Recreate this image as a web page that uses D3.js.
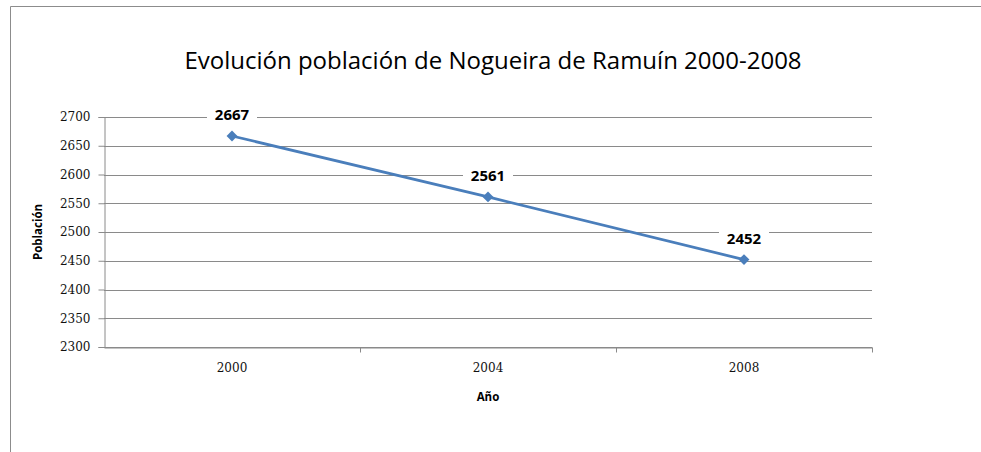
<!DOCTYPE html>
<html>
<head>
<meta charset="utf-8">
<script src="https://cdn.jsdelivr.net/npm/d3@7"></script>
<style>
  body { margin: 0; background: #fff; }
</style>
</head>
<body>
<div id="chart"></div>
<script>
// data
var years = ["2000", "2004", "2008"];
var poblacion = [2667, 2561, 2452];
var yTicks = [2300, 2350, 2400, 2450, 2500, 2550, 2600, 2650, 2700];

var W = 981, H = 452;
var margin = { top: 117, right: 109, bottom: 105, left: 104 },
    width = W - margin.left - margin.right,
    height = H - margin.top - margin.bottom;

var svg = d3.select("#chart").append("svg")
    .attr("width", W)
    .attr("height", H);

// outer chart frame (cropped at right/bottom)
svg.append("path")
    .attr("d", "M10.5," + H + "V6.5H" + W)
    .attr("fill", "none")
    .attr("stroke", "#8c8c8c")
    .attr("stroke-width", 1);

svg.append("text")
    .attr("x", 493)
    .attr("y", 69)
    .attr("text-anchor", "middle")
    .attr("font-family", "Open Sans, sans-serif")
    .attr("font-size", 24)
    .attr("fill", "#000")
    .text("Evolución población de Nogueira de Ramuín 2000-2008");

var g = svg.append("g")
    .attr("transform", "translate(" + margin.left + "," + margin.top + ")");

var x = d3.scaleBand().domain(years).range([0, width]);
var y = d3.scaleLinear().domain([2300, 2700]).range([height, 0]);

// gridlines
g.append("g")
    .selectAll("line")
    .data(yTicks)
    .enter().append("line")
    .attr("x1", 0)
    .attr("x2", width)
    .attr("y1", function (d) { return Math.round(y(d)) + 0.5; })
    .attr("y2", function (d) { return Math.round(y(d)) + 0.5; })
    .attr("stroke", "#8a8a8a");

// y axis
var yAxis = g.append("g")
    .attr("transform", "translate(0.5,0)")
    .call(d3.axisLeft(y).tickValues(yTicks).tickSize(6).tickPadding(8).tickFormat(d3.format("d")));
yAxis.select(".domain").attr("stroke", "#8a8a8a");
yAxis.selectAll(".tick line").attr("stroke", "#8a8a8a");
yAxis.selectAll("text")
    .attr("font-family", "DejaVu Serif, serif")
    .attr("font-size", 12)
    .attr("fill", "#111");

// x axis
var xAxis = g.append("g")
    .attr("transform", "translate(0," + (Math.round(height) + 0.5) + ")")
    .call(d3.axisBottom(x).tickSize(0).tickPadding(16));
xAxis.select(".domain").attr("stroke", "#8a8a8a");
xAxis.selectAll("text")
    .attr("font-family", "DejaVu Serif, serif")
    .attr("font-size", 12)
    .attr("fill", "#111");
// category boundary ticks
xAxis.selectAll(".bound")
    .data(years.slice(1).concat(["end"]))
    .enter().append("line")
    .attr("class", "bound")
    .attr("x1", function (d, i) { return Math.round(x.step() * (i + 1)) + 0.5; })
    .attr("x2", function (d, i) { return Math.round(x.step() * (i + 1)) + 0.5; })
    .attr("y1", 0)
    .attr("y2", 5)
    .attr("stroke", "#8a8a8a");

// axis titles
svg.append("text")
    .attr("transform", "translate(42," + (margin.top + height / 2) + ") rotate(-90)")
    .attr("text-anchor", "middle")
    .attr("font-family", "Open Sans, sans-serif")
    .attr("font-weight", "bold")
    .attr("font-size", 11.5)
    .text("Población");

svg.append("text")
    .attr("x", margin.left + width / 2)
    .attr("y", 401)
    .attr("text-anchor", "middle")
    .attr("font-family", "Open Sans, sans-serif")
    .attr("font-weight", "bold")
    .attr("font-size", 11.5)
    .text("Año");

// line
var pts = years.map(function (d, i) { return { year: d, value: poblacion[i] }; });
var line = d3.line()
    .x(function (d) { return x(d.year) + x.bandwidth() / 2; })
    .y(function (d) { return y(d.value); });

g.append("path")
    .datum(pts)
    .attr("d", line)
    .attr("fill", "none")
    .attr("stroke", "#4a7ebb")
    .attr("stroke-width", 2.75);

g.selectAll(".marker")
    .data(pts)
    .enter().append("path")
    .attr("class", "marker")
    .attr("d", d3.symbol().type(d3.symbolDiamond2).size(75))
    .attr("transform", function (d) {
        return "translate(" + (x(d.year) + x.bandwidth() / 2) + "," + y(d.value) + ")";
    })
    .attr("fill", "#4a7ebb");

// data labels with white background
var labels = g.selectAll(".lbl")
    .data(pts)
    .enter().append("g")
    .attr("class", "lbl")
    .attr("transform", function (d) {
        return "translate(" + (x(d.year) + x.bandwidth() / 2) + "," + (y(d.value) - 21) + ")";
    });
labels.append("rect")
    .attr("x", -25).attr("y", -10)
    .attr("width", 50).attr("height", 20)
    .attr("fill", "#fff");
labels.append("text")
    .attr("text-anchor", "middle")
    .attr("dy", "0.35em")
    .attr("font-family", "Open Sans, sans-serif")
    .attr("font-weight", "bold")
    .attr("font-size", 15)
    .text(function (d) { return d.value; });
</script>
</body>
</html>
